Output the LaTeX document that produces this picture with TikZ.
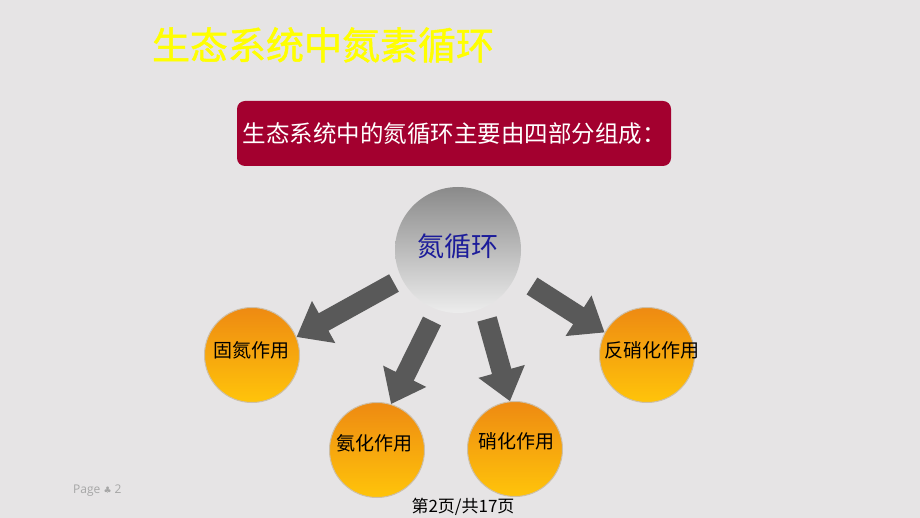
\documentclass[tikz,border=0pt]{standalone}
\usepackage{fontspec}
\usetikzlibrary{arrows.meta,shadings}
\newfontfamily\cjk{Noto Sans CJK SC}
\newfontfamily\cjkt[FakeBold=1.2]{Noto Sans CJK SC}
\newfontfamily\dejavu{DejaVu Sans}
\setmainfont{Open Sans}
\definecolor{bg}{HTML}{E6E4E5}
\definecolor{boxred}{HTML}{A3002F}
\definecolor{ttl}{HTML}{FFFF00}
\definecolor{arrgray}{HTML}{595959}
\definecolor{orgtop}{HTML}{EE8A12}
\definecolor{orgbot}{HTML}{FFC40A}
\definecolor{ringc}{HTML}{CDBFA8}
\definecolor{hubtop}{HTML}{8A8A8A}
\definecolor{hubbot}{HTML}{EDEDED}
\definecolor{hubtxt}{HTML}{1C1C9A}
\tikzset{
  orb/.style={circle, minimum size=95pt, inner sep=0pt, draw=ringc, line width=1pt,
    top color=orgtop, bottom color=orgbot},
  orblbl/.style={font=\cjk\fontsize{19}{19}\selectfont, text=black, inner sep=0pt},
  blockarr/.style={draw=arrgray, line width=20pt,
    -{Triangle[width=46pt,length=31pt]}},
}
\begin{document}
\begin{tikzpicture}[x=1pt,y=-1pt]
\fill[bg] (0,0) rectangle (920,518);
\useasboundingbox (0,0) rectangle (920,518);
% title
\node[text=ttl, font=\cjkt\fontsize{38}{38}\selectfont, inner sep=0pt] (title) at (323,45) {生态系统中氮素循环};
% red box
\node[fill=boxred, rounded corners=8pt, minimum width=434pt, minimum height=65pt, inner sep=0pt,
  text=white, font=\cjk\fontsize{23.5}{23.5}\selectfont] (box) at (454,133.5) {生态系统中的氮循环主要由四部分组成：};
% hub
\node[circle, minimum size=126pt, inner sep=0pt, top color=hubtop, bottom color=hubbot] (hub) at (458,250) {};
\node[text=hubtxt, font=\cjk\fontsize{27}{27}\selectfont, inner sep=0pt] (hubt) at (458,246) {氮循环};
% orbs
\node[orb] (gu) at (252,355) {};
\node[orb] (fan) at (647,355) {};
\node[orb] (an) at (377,450) {};
\node[orb] (xh) at (515,449) {};
\node[orblbl] (gut) at (251,350) {固氮作用};
\node[orblbl] (fant) at (652,350) {反硝化作用};
\node[orblbl] (ant) at (374,443) {氨化作用};
\node[orblbl] (xht) at (516,441) {硝化作用};
% arrows
\coordinate (s1) at (394,283);
\coordinate (s2) at (432,321);
\coordinate (s3) at (487,319);
\coordinate (s4) at (532,286);
\draw[blockarr] (s1) -- (gu.22);
\draw[blockarr] (s2) -- (an.73);
\draw[blockarr] (s3) -- (xh.96);
\draw[blockarr] (s4) -- (fan.152);
% footer
\node[anchor=west, text=gray!70, font=\fontsize{12}{12}\selectfont, inner sep=0pt] (pg) at (73,491) {Page {\dejavu\fontsize{9}{9}\selectfont ♣} 2};
\node[font=\cjk\fontsize{17}{17}\selectfont, text=black, inner sep=0pt] (pn) at (463,507) {第2页/共17页};
\end{tikzpicture}
\end{document}
